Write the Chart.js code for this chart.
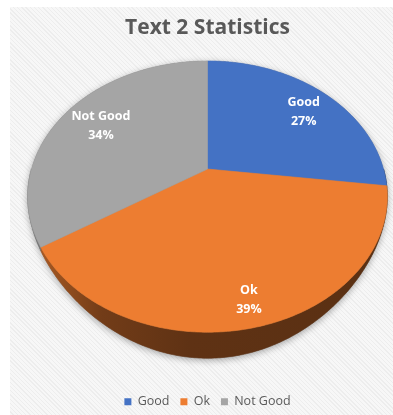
<!DOCTYPE html>
<html>
<head>
<meta charset="utf-8">
<script src="https://cdn.jsdelivr.net/npm/chart.js@4/dist/chart.umd.min.js"></script>
<style>
  html, body { margin: 0; padding: 0; background: #fff; width: 393px; height: 415px; overflow: hidden; }
  #frame {
    position: absolute; left: 10px; top: 7px; width: 395px; height: 408px;
    background-color: #f4f4f4;
    background-image: repeating-linear-gradient(45deg, #f7f7f7 0, #f7f7f7 2px, #ededed 2px, #ededed 3px);
  }
  #frame canvas { display: block; }
</style>
</head>
<body>
<div id="frame"><canvas id="c" width="395" height="411"></canvas></div>
<script>
// Chart data
const categories = ['Good', 'Ok', 'Not Good'];
const shares = [27, 39, 34];
const sliceColors = ['#4472C4', '#ED7D31', '#A5A5A5'];
const chartTitle = 'Text 2 Statistics';

// 3D look: the flat pie laid out by Chart.js is tilted, given perspective and a rim
const SX = 1.053;        // horizontal radius factor
const SY = 0.778;        // vertical radius factor (tilt)
const CY_SHIFT = -0.289; // disc centre sits above the plot centre
const PERSP = 0.203;     // perspective strength (near side larger)
const SD = 0.124;        // rim thickness factor
const RIM_POW = 3;       // rim thins out towards the sides
const LABEL_POS = 0.915; // label anchor along the radius
const LABEL_INSET = 0.85; // labels pulled inwards by their own size
const LINE_GAP = 9.5;
const WALL_SHADE = [[0, 0.74], [0.2, 0.48], [0.45, 0.40], [1, 0.38]];

function shade(hex, f) {
  const n = parseInt(hex.slice(1), 16);
  const r = Math.round(((n >> 16) & 255) * f), g = Math.round(((n >> 8) & 255) * f), b = Math.round((n & 255) * f);
  return 'rgb(' + r + ',' + g + ',' + b + ')';
}

function geom(arc) {
  const R = arc.outerRadius;
  return { cx: arc.x, cy: arc.y + R * CY_SHIFT, rx: R * SX, ry: R * SY, depth: R * SD };
}

function project(g, a, drop) {
  const u = Math.cos(a), v = Math.sin(a);
  const w = 1 / (1 - PERSP * v);
  const d = drop ? g.depth * w * Math.pow(Math.max(0, v), RIM_POW) : 0;
  return { x: g.cx + g.rx * u * w, y: g.cy + g.ry * v * w + d };
}

function rimPath(ctx, g, a0, a1, drop, first) {
  const steps = Math.max(2, Math.ceil(Math.abs(a1 - a0) / 0.01));
  for (let i = 0; i <= steps; i++) {
    const p = project(g, a0 + (a1 - a0) * i / steps, drop);
    if (first && i === 0) ctx.moveTo(p.x, p.y); else ctx.lineTo(p.x, p.y);
  }
}

const pie3d = {
  id: 'pie3d',
  beforeDatasetsDraw(chart) {
    const ctx = chart.ctx;
    const arcs = chart.getDatasetMeta(0).data;
    if (!arcs.length) return false;
    const g = geom(arcs[0]);
    const aL = 0, aR = Math.PI;
    const start = arcs[0].startAngle;

    ctx.save();
    // soft drop shadow under the whole pie
    ctx.shadowColor = 'rgba(0,0,0,0.35)';
    ctx.shadowBlur = 7;
    ctx.shadowOffsetY = 2;
    ctx.fillStyle = '#777';
    ctx.beginPath();
    rimPath(ctx, g, start, start + Math.PI * 2, false, true);
    ctx.closePath();
    ctx.fill();
    ctx.beginPath();
    rimPath(ctx, g, aL, aR, false, true);
    rimPath(ctx, g, aR, aL, true, false);
    ctx.closePath();
    ctx.fill();
    ctx.restore();

    // rim walls
    const left = project(g, aR, false).x, right = project(g, aL, false).x;
    arcs.forEach((arc, i) => {
      const s = Math.max(arc.startAngle, aL), e = Math.min(arc.endAngle, aR);
      if (e <= s) return;
      const grad = ctx.createLinearGradient(left, 0, right, 0);
      WALL_SHADE.forEach(([o, f]) => grad.addColorStop(o, shade(sliceColors[i], f)));
      ctx.beginPath();
      rimPath(ctx, g, s, e, false, true);
      rimPath(ctx, g, e, s, true, false);
      ctx.closePath();
      ctx.fillStyle = grad;
      ctx.strokeStyle = grad;
      ctx.lineWidth = 0.6;
      ctx.fill();
      ctx.stroke();
    });

    // top faces
    arcs.forEach((arc, i) => {
      ctx.beginPath();
      ctx.moveTo(g.cx, g.cy);
      rimPath(ctx, g, arc.startAngle, arc.endAngle, false, false);
      ctx.closePath();
      ctx.fillStyle = sliceColors[i];
      ctx.strokeStyle = sliceColors[i];
      ctx.lineWidth = 0.6;
      ctx.fill();
      ctx.stroke();
    });

    // data labels: category name over percentage, kept inside the slice
    const total = shares.reduce((a, b) => a + b, 0);
    ctx.fillStyle = '#ffffff';
    ctx.font = 'bold 12.5px "Open Sans"';
    ctx.textAlign = 'center';
    ctx.textBaseline = 'middle';
    arcs.forEach((arc, i) => {
      const mid = (arc.startAngle + arc.endAngle) / 2;
      const p = project(g, mid, false);
      const name = categories[i];
      const pct = Math.round(shares[i] / total * 100) + '%';
      const hw = Math.max(ctx.measureText(name).width, ctx.measureText(pct).width) / 2;
      const hh = 2 * LINE_GAP;
      const x = g.cx + (p.x - g.cx) * LABEL_POS - LABEL_INSET * hw * Math.cos(mid);
      const y = g.cy + (p.y - g.cy) * LABEL_POS - LABEL_INSET * hh * Math.sin(mid) + 1.5;
      ctx.fillText(name, x, y - LINE_GAP);
      ctx.fillText(pct, x, y + LINE_GAP);
    });
    return false;
  }
};

new Chart(document.getElementById('c'), {
  type: 'pie',
  data: {
    labels: categories,
    datasets: [{ data: shares, backgroundColor: sliceColors, borderWidth: 0 }]
  },
  options: {
    responsive: false,
    animation: false,
    plugins: {
      title: {
        display: true, text: chartTitle, color: '#595959',
        font: { family: '"Open Sans"', size: 21, weight: 'bold' },
        padding: { top: 8, bottom: 10 }
      },
      legend: {
        position: 'bottom',
        labels: {
          boxWidth: 7, boxHeight: 7, padding: 11, color: '#595959',
          font: { family: '"Open Sans"', size: 12.5 }
        }
      },
      tooltip: { enabled: false }
    }
  },
  plugins: [pie3d]
});
</script>
</body>
</html>
